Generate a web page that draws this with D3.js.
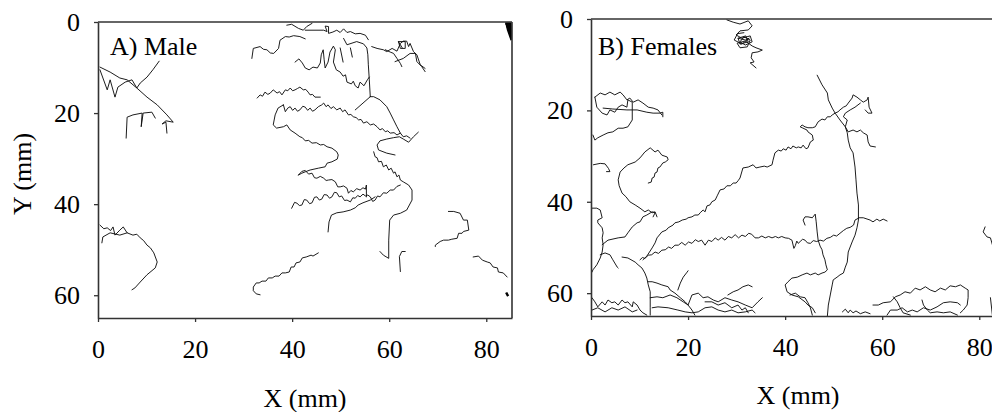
<!DOCTYPE html>
<html><head><meta charset="utf-8">
<script src="https://cdn.jsdelivr.net/npm/d3@7"></script>
<style>body{margin:0;background:#fff}svg{display:block}</style>
</head><body>
<script>
// ---------- tick labels / titles ----------
const xTicks = [0, 20, 40, 60, 80];
const yTicks = [0, 20, 40, 60];
const panelTitles = ["A) Male", "B) Females"];
const axisTitles = ["X (mm)", "Y (mm)"];
const xDomain = [0, 85.3];
const yDomain = [0, 65];

// ---------- male trajectories (x mm, y mm) ----------
const m01 = [[0.4,9.9],[2.5,11.0],[4.5,12.3],[6.0,12.7],[8.0,14.5],[10.1,16.5],[12.2,18.2],[14.2,20.4],[15.5,22.0],[14.0,21.7],[13.2,22.4],[14.0,22.0],[14.2,24.4]];
const m02 = [[0.4,10.5],[1.9,14.9],[2.5,12.7],[3.5,16.5],[4.1,14.3],[5.6,13.2],[7.0,12.7],[8.0,14.5],[8.7,13.4],[10.1,12.1],[11.3,10.5],[12.6,8.6]];
const m03 = [[5.8,25.5],[6.0,20.9],[7.2,20.4],[9.1,20.0],[8.9,23.0],[9.3,20.0],[11.1,19.8],[11.8,21.1]];
const m04 = [[0.4,44.6],[1.2,45.4],[1.9,45.2],[2.6,45.8],[3.1,45.0],[3.5,46.8],[4.5,45.7],[5.2,45.0],[6.0,46.3],[7.2,46.8],[8.0,46.6],[8.7,47.4],[9.4,48.0],[10.1,49.0],[10.8,49.6],[11.5,50.7],[12.2,52.7],[11.8,54.0],[10.1,55.5],[8.7,57.1],[7.6,58.4],[7.0,58.8]];
const m05 = [[0.8,48.5],[1.0,47.2],[2.5,46.3],[4.5,46.8],[6.0,46.3]];
const m06 = [[45.4,50.7],[44.3,51.4],[43.9,51.2],[42.9,51.6],[42.1,51.8],[41.6,52.7],[40.8,52.9],[40.4,53.8],[39.8,53.8],[39.4,54.9],[38.6,55.1],[37.9,55.1],[37.3,55.8],[36.5,55.8],[35.9,56.2],[35.1,56.2],[34.6,56.9],[33.8,56.9],[33.2,57.3],[32.6,57.3],[32.0,58.2],[32.0,59.0],[32.6,59.7],[33.4,59.9]];
const m07 = [[39.9,40.9],[40.5,39.6],[41.0,39.8],[41.5,40.3],[42.0,40.2],[42.5,39.0],[43.0,39.1],[43.6,39.9],[44.1,39.7],[44.6,38.5],[45.1,38.4],[45.6,39.1],[46.1,38.9],[46.6,37.9],[47.2,38.0],[47.7,38.7],[48.2,38.4],[48.7,37.4],[49.2,37.5],[49.7,38.4],[50.2,38.2],[50.8,39.2],[51.3,39.1],[52.0,39.5],[52.5,38.6],[53.0,38.7],[53.5,38.1],[54.0,38.4],[54.6,37.8],[55.1,38.2],[55.6,38.0],[56.1,38.4],[56.6,39.4],[57.1,39.1],[57.6,38.2],[58.1,38.4],[58.8,37.5],[59.5,37.6],[60.2,36.9],[60.9,36.9],[61.6,36.1],[62.3,35.8]];
const m08 = [[41.3,33.6],[42.0,32.8],[42.7,32.6],[43.4,33.4],[44.1,33.2],[44.6,34.2],[45.1,34.3],[45.8,33.9],[46.5,34.3],[47.0,34.8],[47.5,34.7],[48.2,34.6],[48.9,35.1],[49.4,36.2],[49.9,36.2],[50.6,36.0],[51.3,36.5],[51.6,37.6],[52.1,37.0],[52.6,37.3],[53.3,36.6],[54.0,36.9],[54.6,36.4],[55.1,36.7],[55.3,35.8],[55.3,38.4]];
const m09 = [[47.4,46.1],[47.6,43.9],[48.1,42.4],[49.2,41.9],[50.5,41.7],[52.0,41.3],[53.0,40.8],[53.6,40.2],[54.6,39.7],[56.1,39.1],[57.1,38.4]];
const m10 = [[58.1,50.4],[58.8,51.2],[59.9,51.9],[59.9,47.9],[60.1,43.5],[60.9,42.4],[62.3,42.0],[63.6,41.3],[64.7,39.1],[64.7,36.9],[64.0,35.8],[62.9,35.1],[62.3,34.7],[62.0,33.6],[61.6,34.0],[61.2,32.9],[60.9,33.2],[60.4,32.1],[59.9,32.5],[59.4,31.4],[58.8,31.8],[58.4,30.6],[57.8,30.7],[57.5,29.8],[57.1,29.6],[56.8,28.5]];
const m11 = [[62.3,54.8],[62.1,51.5],[62.6,50.4],[63.3,50.4]];
const m12 = [[61.2,29.2],[59.5,28.8],[57.8,28.1],[57.5,27.0],[58.1,26.1],[59.5,25.7],[60.9,25.4],[62.1,25.2],[62.9,25.7],[64.0,26.4],[65.0,25.2],[66.0,24.2]];
const m13 = [[38.9,0.7],[39.9,0.5],[41.3,1.4],[42.3,1.8],[43.0,1.0],[44.1,0.3]];
const m14 = [[42.7,1.8],[46.5,1.8],[47.2,2.1],[46.8,0.9],[47.5,1.0],[47.5,2.5],[48.4,2.2],[49.2,1.8],[49.9,2.3],[50.6,1.5],[51.3,2.3],[52.0,2.1],[53.0,2.6],[54.0,2.5],[55.1,2.9],[55.7,3.9]];
const m15 = [[31.7,8.0],[32.0,5.8],[33.4,5.4],[34.1,6.0],[34.8,6.1],[35.5,6.8],[36.2,6.9],[37.2,5.8],[37.5,4.0],[38.6,3.2],[39.4,3.3],[40.3,3.0],[41.6,3.2],[42.7,3.7]];
const m16 = [[50.6,3.6],[51.3,5.0],[53.3,4.3],[54.7,4.8],[55.4,5.7],[55.6,7.2],[55.7,9.4],[55.9,12.7],[56.1,16.4]];
const m17 = [[56.1,16.4],[53.0,19.3]];
const m18 = [[56.1,16.4],[56.8,16.4],[58.1,17.1],[59.5,18.6],[60.2,20.0],[60.9,21.5],[61.6,23.0],[62.3,24.4]];
const m19 = [[40.6,8.8],[41.4,8.1],[42.1,9.0],[42.7,10.1],[43.5,10.5],[44.3,9.9],[45.2,10.1],[45.8,9.0],[46.0,7.2],[46.4,6.1],[46.6,8.3],[46.8,10.1],[47.4,8.8],[47.8,6.6],[48.5,5.3],[48.9,6.1],[48.5,8.8],[49.1,10.5],[49.9,11.0],[50.5,11.9],[51.0,11.6],[51.3,13.2],[52.2,13.6],[52.6,13.0],[53.0,14.0],[53.6,14.5],[54.0,13.2],[54.8,14.0],[55.5,12.7],[55.9,12.1]];
const m20 = [[49.9,5.7],[50.5,8.8]];
const m21 = [[52.0,5.7],[52.4,7.7]];
const m22 = [[32.8,16.7],[33.4,16.0],[33.9,16.3],[34.4,15.4],[35.0,15.9],[35.5,15.6],[36.1,14.9],[36.9,15.6],[37.4,15.3],[37.9,16.0],[38.6,14.9],[39.1,15.1],[39.6,14.5],[40.1,15.1],[40.6,14.9],[41.1,14.6],[41.6,14.3],[42.3,14.9],[42.8,14.8],[43.3,15.4],[43.7,16.0],[44.2,15.9],[44.7,16.5],[45.8,16.5]];
const m23 = [[38.2,18.2],[38.6,19.7],[39.1,18.9],[39.6,18.6],[40.1,19.4],[40.6,18.9],[41.1,19.6],[41.6,19.3],[42.2,18.5],[42.7,18.7],[43.2,19.4],[43.7,18.9],[44.2,19.6],[44.7,19.3],[45.4,18.6],[46.1,18.2],[46.5,17.8],[47.0,18.6],[47.4,18.2],[48.0,19.0],[48.5,18.6],[49.2,19.3],[49.9,18.9],[50.4,19.7],[50.9,19.3],[51.6,20.4],[52.1,20.3],[52.6,20.8],[53.2,21.0],[53.7,21.5],[54.2,21.4],[54.7,22.2],[55.4,21.9],[56.1,22.6],[56.8,22.4],[57.5,23.0],[58.1,23.7],[58.6,23.4],[59.2,24.1],[59.7,23.9],[60.2,24.4],[61.0,24.3],[61.6,24.8],[62.3,24.4],[62.9,25.2],[63.6,25.0],[64.3,25.5]];
const m24 = [[38.2,18.2],[37.1,18.9],[36.5,20.4],[36.1,22.6],[36.8,23.3],[38.2,23.0],[38.9,22.6],[39.6,23.7],[40.6,24.4],[41.6,25.2],[42.1,25.4],[42.7,26.1],[43.4,26.0],[44.1,26.6],[45.0,26.5],[45.8,27.0],[46.5,26.9],[47.2,27.4],[48.2,27.7],[49.2,28.5],[49.5,29.2],[49.3,30.1],[48.2,30.7],[47.2,31.0],[46.8,31.8],[45.4,32.1],[43.7,32.5],[42.7,32.9],[42.0,33.2],[41.3,33.6]];
const m25 = [[56.4,5.4],[57.5,5.8],[58.8,6.1],[59.5,6.5],[60.6,5.8],[61.6,6.4],[62.3,4.7],[62.9,4.2],[63.6,4.2],[64.0,5.4],[64.3,4.7],[65.0,6.5],[65.7,7.2],[66.4,9.4],[67.4,10.2]];
const m26 = [[59.2,6.1],[60.2,6.6],[60.9,6.9],[61.6,8.0],[62.3,9.1],[62.6,9.8]];
const m27 = [[61.9,4.3],[63.3,4.3],[63.3,5.8],[62.3,5.8],[61.9,4.3],[62.7,5.7]];
const m28 = [[61.2,8.7],[62.9,8.0],[64.3,6.9],[65.4,6.9],[65.7,8.7],[66.7,9.8],[67.4,10.9]];
const m29 = [[72.2,41.6],[73.3,41.6],[74.6,42.0],[75.3,43.5],[76.1,43.5],[76.4,45.7],[75.3,46.0],[75.0,46.4],[74.3,46.4],[74.0,47.5],[72.9,47.7],[72.2,47.9],[71.2,47.9],[70.5,48.2],[69.5,49.0],[69.5,49.3]];
const m30 = [[77.3,51.6],[78.4,51.4],[79.2,52.3],[80.2,52.7],[80.8,52.9],[81.4,53.8],[82.3,54.0],[82.5,54.9],[83.5,55.1],[84.3,56.0]];
const maleBlobs = [[[83.9,0.3],[85.0,0.3],[85.1,3.6],[84.5,1.8],[84.2,0.5],[84.9,2.7],[85.2,4.0]], [[84.1,59.4],[84.5,60.2]]];
const maleTracks = [m01,m02,m03,m04,m05,m06,m07,m08,m09,m10,m11,m12,m13,m14,m15,m16,m17,m18,m19,m20,m21,m22,m23,m24,m25,m26,m27,m28,m29,m30];

// ---------- female trajectories (x mm, y mm) ----------
const f01 = [[28.0,0.2],[29.3,0.7],[30.7,1.1],[32.4,0.4],[33.2,1.5],[32.4,2.4],[30.7,2.6],[29.9,3.5],[31.1,4.2],[32.8,3.7],[33.2,5.0],[31.8,5.7],[30.7,5.0],[31.5,3.9],[32.8,4.6],[32.2,6.1],[30.7,6.3],[30.1,5.3],[31.8,4.8],[33.2,5.9],[34.0,6.3],[35.3,6.8],[34.4,7.2],[33.2,7.4],[33.0,8.5],[33.6,9.4],[32.8,9.6],[34.0,10.7]];
const f02 = [[30.3,4.2],[31.9,3.7],[32.4,5.0],[30.7,5.5],[30.3,4.2],[31.8,4.6],[32.6,4.2],[31.1,5.5],[29.5,4.6],[30.2,3.2],[31.5,3.0]];
const f03 = [[0.8,17.1],[1.9,16.2],[2.9,16.6],[3.9,16.0],[4.9,16.6],[6.0,16.0],[6.6,16.6],[7.4,17.7],[8.0,17.3],[8.7,18.2],[9.7,17.7],[10.7,18.4],[11.8,19.3],[12.8,19.5],[13.8,19.9],[14.6,21.0]];
const f04 = [[0.8,17.1],[1.2,19.3],[2.3,20.6],[3.3,21.0],[3.9,19.9],[4.9,20.4],[5.6,19.3],[6.4,18.8],[7.4,19.3],[7.6,17.7],[8.5,18.2],[8.5,19.9],[8.5,22.1],[7.6,23.6],[6.6,23.9],[5.6,23.9],[4.5,24.7],[3.5,24.9],[2.5,25.4],[1.4,26.0],[0.8,26.5],[0.4,25.4]];
const f05 = [[2.5,19.5],[4.5,19.7],[7.4,19.9],[9.5,19.9],[11.5,20.4],[12.8,20.6],[14.2,20.6],[14.8,20.4],[14.8,21.4]];
const f06 = [[0.5,31.9],[1.9,31.6],[2.9,31.7],[3.6,32.7],[3.9,33.4],[3.2,33.4]];
const f07 = [[13.6,43.3],[13.2,42.2],[12.6,42.4],[11.8,41.8],[11.1,42.2],[10.1,41.4],[9.1,40.7],[8.0,40.0],[7.2,38.9],[6.4,38.1],[5.8,36.5],[5.6,35.2],[6.0,33.5],[6.8,32.6],[7.6,31.9],[9.1,31.3],[10.1,30.4],[11.1,29.1],[12.2,28.2],[13.2,29.1],[13.8,28.7],[14.6,29.8],[15.7,30.2],[15.9,30.8],[15.3,31.3],[14.8,31.5],[14.2,32.4],[13.8,32.6],[13.6,33.5],[13.2,33.7],[13.0,34.6],[12.6,34.8],[12.4,35.7],[11.8,35.9]];
const f08 = [[10.7,52.7],[11.5,51.9],[12.6,50.1],[13.2,49.0],[13.6,47.9],[14.6,46.6],[15.5,46.2],[15.9,45.7],[16.9,45.1],[17.3,44.6],[18.1,44.4],[18.8,44.0],[19.6,43.8],[20.0,43.5],[20.8,43.3],[21.4,42.9],[22.1,42.9],[22.5,42.4],[23.1,41.8],[23.5,42.2],[23.9,40.9],[24.5,40.7],[24.9,40.0],[25.6,39.6],[26.0,38.7],[26.6,37.4],[27.4,37.2],[28.0,36.5],[28.7,36.5],[29.3,35.9],[29.9,35.9],[30.3,35.4],[30.7,34.8],[31.3,32.6],[32.4,32.4],[33.4,31.9],[34.0,32.6],[34.8,32.4],[35.7,32.2],[36.3,32.4],[37.3,31.9],[37.5,30.9],[37.9,29.3],[38.6,28.7],[39.2,28.9],[39.6,28.4],[40.2,28.7],[40.6,28.0],[41.2,28.4],[41.6,27.8],[42.3,28.2],[42.7,28.0],[43.3,28.2],[43.7,27.6],[44.3,28.4],[44.7,28.2],[45.2,26.9],[45.8,26.5],[45.6,25.4],[44.7,24.7],[44.5,24.3],[43.5,23.8],[43.1,23.6],[43.5,23.2],[44.1,23.6],[44.7,23.8],[45.6,23.8],[46.2,23.6],[46.8,22.5],[47.6,21.9],[48.2,22.1],[48.7,21.4],[49.3,21.4],[49.7,21.0],[50.3,20.6],[50.9,20.3],[51.3,19.9],[52.0,19.3],[52.6,19.0],[53.0,18.4],[53.8,17.3],[54.0,16.6],[54.8,17.1],[55.5,17.7],[56.1,18.2],[56.9,17.7],[57.1,17.1],[57.3,19.3],[57.9,20.6],[57.1,20.6],[56.5,19.9]];
const f09 = [[55.5,18.4],[54.4,19.3],[53.4,19.9],[52.4,20.6],[52.0,21.4],[52.8,22.1],[52.4,23.6],[53.0,24.7],[54.0,24.3],[54.8,24.7],[55.5,24.3],[56.1,24.9],[56.9,25.4],[57.1,26.9],[57.5,27.8],[58.6,28.0]];
const f10 = [[46.6,12.3],[47.6,14.4],[48.7,16.2],[48.9,17.7],[49.7,19.5],[50.3,20.6],[51.3,22.1],[52.4,23.6],[52.8,24.9],[53.0,26.5],[53.4,28.2],[54.0,29.3],[54.4,32.4],[54.6,35.2],[54.8,38.1],[55.1,40.7],[55.1,44.0],[54.8,45.7],[54.4,47.3],[53.8,48.8],[53.0,51.0],[52.8,53.2],[52.4,54.3],[52.0,55.6],[51.3,56.0],[50.7,56.5],[49.9,57.1],[49.7,58.2],[49.3,60.4],[48.9,62.6],[48.7,65.0]];
const f11 = [[55.1,43.5],[56.1,43.5],[57.5,44.0],[58.1,44.4],[58.9,43.8],[59.5,44.2],[60.2,43.8],[61.0,44.2]];
const f12 = [[10.1,52.7],[10.6,52.2],[11.1,52.4],[11.8,51.7],[12.5,51.6],[13.2,51.0],[13.9,51.3],[14.6,50.6],[15.3,50.5],[16.0,49.9],[16.6,50.2],[17.3,49.5],[18.0,49.5],[18.7,48.9],[19.4,49.5],[20.1,48.8],[20.8,49.1],[21.5,48.3],[22.1,48.7],[22.8,48.4],[23.5,49.5],[24.2,48.4],[24.9,48.7],[25.6,47.9],[26.2,48.4],[26.9,47.8],[27.6,48.4],[28.3,47.6],[29.0,47.9],[29.7,47.2],[30.4,47.9],[31.1,47.3],[31.8,47.6],[32.5,46.9],[33.1,47.1],[33.8,47.9],[34.5,47.9],[35.2,47.5],[35.9,47.9],[36.6,47.6],[37.3,47.9],[38.0,47.6],[38.6,47.9],[39.3,47.6],[40.0,47.9],[40.7,48.0],[41.4,48.4],[41.8,50.2],[42.1,49.6],[42.4,48.6],[42.7,49.1],[43.1,48.7],[43.6,48.2],[44.1,48.4],[44.6,49.0],[45.2,49.1],[45.8,48.5],[46.5,48.7],[47.2,48.4],[47.9,48.6],[48.6,48.0],[49.3,47.8],[50.0,47.3],[50.6,47.5],[51.3,46.9],[52.0,46.3],[52.7,45.8],[53.4,45.6],[54.1,45.1],[54.4,44.0],[55.1,43.6]];
const f13 = [[44.1,45.1],[43.7,44.0],[44.1,43.3],[44.7,43.3],[45.6,43.5],[46.2,42.7],[46.4,44.4],[46.6,46.6],[46.8,48.4],[47.2,49.7],[47.6,50.5],[47.8,51.6],[48.2,52.7],[48.4,53.8],[48.7,54.9],[48.2,55.4],[47.6,55.6],[46.8,56.0],[46.2,55.6],[45.2,56.0],[44.5,55.6],[43.5,56.0],[42.5,56.5],[41.4,56.7],[40.6,57.5],[40.0,58.2],[40.4,59.7],[41.4,60.4],[42.7,60.8],[44.1,61.9],[44.7,62.6],[45.6,63.2],[46.2,64.3]];
const f14 = [[0.2,41.4],[1.2,41.4],[1.9,41.8],[2.3,43.5],[1.4,44.0],[1.4,44.6],[2.3,45.7],[2.5,46.8],[2.3,47.9],[2.5,49.4],[2.3,51.0],[1.9,52.3],[1.2,53.8],[0.4,54.9],[0.2,55.4]];
const f15 = [[2.3,49.4],[3.5,48.4],[5.6,47.9],[7.0,47.7],[7.6,46.8],[8.5,45.5],[9.5,44.6],[10.1,44.4],[10.7,43.3],[11.5,42.9],[12.6,42.2],[13.2,42.4],[12.8,43.3]];
const f16 = [[1.9,51.6],[2.9,51.2],[3.9,51.6],[4.5,52.7],[5.4,54.3],[5.6,54.5]];
const f17 = [[6.4,52.1],[7.6,52.3],[9.1,53.2],[9.7,53.8],[10.5,54.5],[11.1,55.6],[11.5,56.7],[11.8,58.2],[12.2,59.7],[12.2,61.0],[12.2,63.2],[12.2,64.8]];
const f18 = [[11.8,57.5],[12.6,57.5],[13.6,57.8],[14.6,58.2],[15.9,58.6],[16.3,59.3],[17.3,60.0],[18.4,61.0],[19.4,61.9],[20.0,62.6],[20.8,63.7],[21.4,64.8]];
const f19 = [[17.9,59.3],[18.4,57.8],[19.0,56.5],[19.8,55.4],[20.0,55.1]];
const f20 = [[28.2,60.4],[29.3,59.7],[30.3,59.3],[31.3,58.6],[32.4,58.2],[33.2,58.6]];
const f21 = [[0.2,61.0],[0.8,61.9],[1.4,63.0],[2.3,61.9],[2.9,62.6],[3.5,61.5],[4.3,62.1],[4.9,61.9],[5.6,62.6],[6.4,61.5],[7.0,62.1],[7.6,61.9],[8.5,63.0],[8.7,61.9],[9.5,62.6],[10.1,63.7],[10.7,64.3],[11.5,64.8]];
const f22 = [[0.2,63.7],[1.4,63.2],[2.9,64.1],[4.3,63.2],[5.6,63.7],[7.0,63.0],[8.5,64.1],[9.5,63.7]];
const f23 = [[12.2,61.0],[13.6,60.8],[14.8,61.0],[16.3,60.4],[17.7,61.0],[19.0,61.9],[20.0,62.6],[20.8,60.4],[22.1,60.0],[23.1,61.0],[24.1,60.8],[25.2,61.5],[26.2,61.9],[27.6,61.0],[29.0,61.5],[30.3,61.9],[31.8,62.6],[33.2,63.2],[34.4,61.9],[35.3,61.0]];
const f24 = [[12.6,63.2],[13.8,63.0],[15.9,63.2],[17.9,63.7],[19.4,64.1],[20.8,64.3],[22.1,64.1],[23.5,63.2],[24.9,63.0],[26.2,63.7],[27.6,64.1],[29.0,63.7],[30.3,64.3],[31.8,64.1],[33.2,63.7],[33.8,64.3]];
const f25 = [[23.5,61.9],[24.9,61.9],[26.2,62.6],[27.6,62.1],[29.0,63.2],[30.3,62.6],[31.1,63.7],[31.8,63.2],[32.4,64.3]];
const f26 = [[41.0,60.4],[42.1,60.0],[43.1,60.8],[44.1,61.0],[44.7,62.1],[45.2,63.2],[45.6,64.8]];
const f27 = [[51.8,64.1],[52.4,63.5],[53.0,64.3],[53.4,63.7],[54.0,64.3],[54.6,63.9],[55.5,64.5],[56.5,64.1],[57.5,64.5]];
const f28 = [[58.1,62.6],[59.2,62.6],[60.2,62.1],[61.7,61.9],[62.7,60.8],[63.7,60.4],[64.7,59.7],[65.8,60.0],[66.8,58.9],[67.8,59.3],[68.9,58.6],[69.9,59.3],[70.9,59.7],[72.0,58.9],[73.0,59.3],[74.0,58.4],[75.1,58.6],[76.1,58.2],[77.1,58.9],[77.7,59.3],[77.7,61.0],[77.5,62.6],[76.7,63.7],[76.1,64.3]];
const f29 = [[61.0,64.8],[61.7,63.7],[63.1,63.7],[64.1,63.2],[65.2,64.1],[66.2,63.7],[67.2,64.1],[68.5,63.2],[69.9,63.7],[71.3,63.0],[72.6,62.1],[74.0,61.9],[75.5,62.1],[76.1,62.6]];
const f30 = [[62.3,60.8],[63.1,61.9],[63.7,63.2],[64.3,64.3],[65.8,64.8]];
const f31 = [[68.2,61.5],[68.5,62.6],[69.3,63.7],[69.9,64.3],[71.3,64.1],[72.6,64.3],[74.0,64.1],[75.5,64.8]];
const f32 = [[81.2,45.5],[80.8,46.6],[81.6,47.7],[82.3,47.9],[82.7,49.4]];
const f33 = [[82.3,61.0],[82.7,64.8]];
const femaleTracks = [f01,f02,f03,f04,f05,f06,f07,f08,f09,f10,f11,f12,f13,f14,f15,f16,f17,f18,f19,f20,f21,f22,f23,f24,f25,f26,f27,f28,f29,f30,f31,f32,f33];
const femaleBlobs = [];

// ---------- drawing ----------
const W = 992, H = 412;
const FONT = '"Liberation Serif","Times New Roman",serif';
const svg = d3.select("body").append("svg").attr("width", W).attr("height", H);

const panels = [
  {title: panelTitles[0], tracks: maleTracks, blobs: maleBlobs, xr: [98, 512], yr: [22, 318], tx: 110, ty: 55, xt: 407, ylab: true, right: true},
  {title: panelTitles[1], tracks: femaleTracks, blobs: femaleBlobs, xr: [591, 1005], yr: [19, 316], tx: 598, ty: 55, xt: 404, ylab: false, right: false}
];

panels.forEach((p, i) => {
  const x = d3.scaleLinear().domain(xDomain).range(p.xr);
  const y = d3.scaleLinear().domain(yDomain).range(p.yr);
  const g = svg.append("g");

  const clipId = "clip" + i;
  svg.append("clipPath").attr("id", clipId).append("rect")
    .attr("x", x(xDomain[0])).attr("y", y(yDomain[0]))
    .attr("width", x(xDomain[1]) - x(xDomain[0])).attr("height", y(yDomain[1]) - y(yDomain[0]));

  const line = d3.line().x(d => x(d[0])).y(d => y(d[1])).curve(d3.curveLinear);
  const tg = g.append("g").attr("clip-path", `url(#${clipId})`);
  tg.selectAll("path.trk").data(p.tracks).join("path").attr("class", "trk")
    .attr("d", line).attr("fill", "none").attr("stroke", "#111")
    .attr("stroke-width", 0.95).attr("stroke-linejoin", "round").attr("stroke-linecap", "round");
  tg.selectAll("path.blob").data(p.blobs).join("path").attr("class", "blob")
    .attr("d", line).attr("fill", "#000").attr("stroke", "#000")
    .attr("stroke-width", 2.4).attr("stroke-linejoin", "round");

  // frame lines
  g.append("line").attr("x1", x(xDomain[0])).attr("x2", x(xDomain[1]))
    .attr("y1", y(0)).attr("y2", y(0)).attr("stroke", "#333").attr("stroke-width", 1.6);
  if (p.right) {
    g.append("line").attr("x1", x(xDomain[1])).attr("x2", x(xDomain[1]))
      .attr("y1", y(yDomain[0])).attr("y2", y(yDomain[1])).attr("stroke", "#333").attr("stroke-width", 1.6);
  }

  const xa = g.append("g").attr("transform", `translate(0,${y(yDomain[1])})`)
    .call(d3.axisBottom(x).tickValues(xTicks).tickSize(4).tickSizeOuter(0).tickPadding(17.5).tickFormat(d3.format("d")));
  const ya = g.append("g").attr("transform", `translate(${x(0)},0)`)
    .call(d3.axisLeft(y).tickValues(yTicks).tickSize(4).tickSizeOuter(0).tickPadding(14).tickFormat(d3.format("d")));
  [xa, ya].forEach(a => {
    a.select(".domain").attr("stroke", "#333").attr("stroke-width", 1.6);
    a.selectAll(".tick line").attr("stroke", "#333").attr("stroke-width", 1.3);
    a.selectAll(".tick text").attr("fill", "#000").style("font-family", FONT).style("font-size", "26px");
  });

  g.append("text").attr("x", p.tx).attr("y", p.ty).text(p.title)
    .style("font-family", FONT).style("font-size", "26px").attr("fill", "#000");

  g.append("text").attr("x", (p.xr[0] + p.xr[1]) / 2).attr("y", p.xt).attr("text-anchor", "middle")
    .text(axisTitles[0]).style("font-family", FONT).style("font-size", "26px").attr("fill", "#000");

  if (p.ylab) {
    g.append("text").attr("transform", `translate(31,${(p.yr[0] + p.yr[1]) / 2 + 4}) rotate(-90)`)
      .attr("text-anchor", "middle").text(axisTitles[1])
      .style("font-family", FONT).style("font-size", "26px").attr("fill", "#000");
  }
});
</script>
</body></html>
